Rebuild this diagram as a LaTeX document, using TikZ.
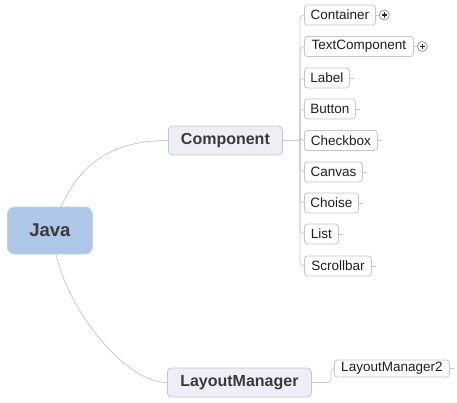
\documentclass[tikz,border=0pt]{standalone}
\usepackage{fontspec}
\setmainfont{Liberation Sans}
\begin{document}
\begin{tikzpicture}[x=1pt,y=-1pt,
  link/.style={draw=linegray, line width=0.8pt},
  rootbox/.style={draw=rootborder, fill=rootfill, rounded corners=7pt, line width=0.8pt,
    anchor=west, minimum width=85pt, minimum height=47pt, inner sep=0pt,
    font=\fontsize{18.5}{20}\selectfont\bfseries, text=textdark},
  mainbox/.style={draw=boxborder, fill=mainfill, rounded corners=4pt, line width=0.8pt,
    anchor=west, minimum height=29pt, inner sep=0pt,
    font=\fontsize{16}{18}\selectfont\bfseries, text=textdark},
  leafbox/.style={draw=boxborder, fill=white, rounded corners=3pt, line width=0.8pt,
    anchor=west, minimum height=20pt, inner sep=0pt,
    font=\fontsize{13.5}{15}\selectfont, text=textleaf},
  plusdot/.style={circle, draw=plusgray, fill=white, line width=0.8pt, minimum size=10pt, inner sep=0pt},
  plusbar/.style={draw=black!85, line width=1.3pt},
]
\definecolor{linegray}{HTML}{C8C8C8}
\definecolor{rootborder}{HTML}{C4D2E6}
\definecolor{rootfill}{HTML}{AEC6E8}
\definecolor{boxborder}{HTML}{C6C6CA}
\definecolor{mainfill}{HTML}{EEEEF6}
\definecolor{textdark}{HTML}{3A3A3A}
\definecolor{textleaf}{HTML}{1E1E1E}
\definecolor{plusgray}{HTML}{9A9A9A}

\useasboundingbox (0,0) rectangle (457,402);

% main nodes
\node[rootbox] (java) at (7,230.5) {Java};
\node[mainbox, minimum width=114pt] (comp) at (168,140.5) {Component};
\node[mainbox, minimum width=144pt] (lm) at (167,382.5) {LayoutManager};
\node[leafbox, minimum width=115pt, minimum height=17pt] (lm2) at (334,368.5) {LayoutManager2};

% leaves
\node[leafbox, minimum width=71pt] (cont) at (304,15) {Container};
\node[leafbox, minimum width=109pt] (text) at (304,46.5) {TextComponent};
\node[leafbox, minimum width=45pt] (label) at (304,78) {Label};
\node[leafbox, minimum width=51pt] (button) at (304,109) {Button};
\node[leafbox, minimum width=73pt] (check) at (304,140.5) {Checkbox};
\node[leafbox, minimum width=58pt] (canvas) at (304,172) {Canvas};
\node[leafbox, minimum width=54pt] (choise) at (304,203) {Choise};
\node[leafbox, minimum width=34pt] (list) at (304,234) {List};
\node[leafbox, minimum width=67pt] (scroll) at (304,266) {Scrollbar};

% root connectors
\coordinate (javatop) at (61,207);
\coordinate (javabot) at (56,254);
\draw[link] (javatop) .. controls (80,165) and (110,140.5) .. (comp.west);
\draw[link] (javabot) .. controls (68,310) and (125,382.5) .. (lm.west);

% spine from Component
\coordinate (sp) at (300,140.5);
\draw[link] (comp.east) -- (sp);
\foreach \n in {cont,text,label,button,check,canvas,choise,list,scroll}{
  \draw[link, rounded corners=4pt] (sp) |- (\n.west);
}

% LayoutManager -> LayoutManager2
\coordinate (lmj) at (331,382.5);
\draw[link, rounded corners=3pt] (lm.east) -- (lmj) |- (lm2.west);

% stubs
\foreach \n in {label,button,check,canvas,choise,list,scroll,lm2}{
  \coordinate (\n-stub) at ([xshift=4pt]\n.east);
  \draw[link] (\n.east) -- (\n-stub);
}

% expanders
\node[plusdot] (contplus) at ([xshift=8.5pt]cont.east) {};
\node[plusdot] (textplus) at ([xshift=8.5pt]text.east) {};
\foreach \p in {contplus,textplus}{
  \draw[plusbar] ([xshift=-2.6pt]\p.center) -- ([xshift=2.6pt]\p.center);
  \draw[plusbar] ([yshift=-2.6pt]\p.center) -- ([yshift=2.6pt]\p.center);
}
\draw[link] (cont.east) -- (contplus.west);
\draw[link] (text.east) -- (textplus.west);
\end{tikzpicture}
\end{document}
